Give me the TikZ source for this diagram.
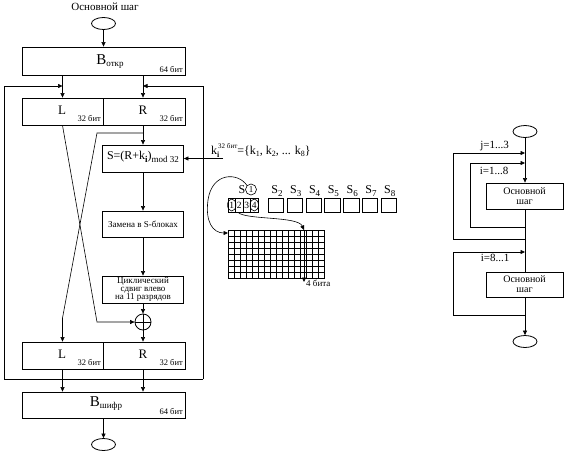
\documentclass[tikz,border=0pt]{standalone}
\usepackage{fontspec}
\setmainfont{Liberation Serif}
\usetikzlibrary{arrows.meta,shapes.geometric}
\newcommand{\fs}[1]{\fontsize{#1}{#1}\selectfont}
\begin{document}
\begin{tikzpicture}[x=1pt,y=-1pt,
  box/.style={draw, line width=0.8pt, inner sep=0pt},
  ln/.style={line width=0.6pt},
  thin/.style={line width=0.35pt},
  arr/.style={ln, -{Triangle[length=4.5pt,width=4pt]}},
  oval/.style={draw, ellipse, line width=0.8pt, inner sep=0pt, minimum width=24pt, minimum height=12pt},
  big/.style={font=\fs{13}, inner sep=0pt},
  bigB/.style={font=\fs{15}, inner sep=0pt},
  small/.style={font=\fs{8.5}, inner sep=0pt},
  mid/.style={font=\fs{9}, inner sep=0pt, align=center},
  rtxt/.style={font=\fontsize{10}{10}\selectfont, inner sep=0pt, align=center},
  lab/.style={font=\fs{11}, inner sep=0pt}]
\useasboundingbox (0,0) rectangle (564,452);

% ---------- left diagram ----------
\node[font=\fs{11}] (title) at (105,7) {Основной шаг};
\node[oval] (st) at (103.5,23.5) {};
\node[box, minimum width=163pt, minimum height=28pt] (bo) at (103.5,61) {};
\node[bigB] (botx) at (110,62) {B\raisebox{-2pt}{\fs{9}откр}};
\node[small, anchor=base east] (bo64) at (183,72) {64 бит};

\node[box, minimum width=81pt, minimum height=27pt] (L1) at (62.5,111.5) {};
\node[box, minimum width=82pt, minimum height=27pt] (R1) at (144,111.5) {};
\node[big] (L1t) at (62,110) {L};
\node[big] (R1t) at (143,110) {R};
\node[small, anchor=base east] (L1b) at (101,121) {32 бит};
\node[small, anchor=base east] (R1b) at (183,121) {32 бит};

\node[box, minimum width=81pt, minimum height=27pt] (S) at (143,158.5) {};
\node[font=\fs{12}, inner sep=0pt] (Stx) at (143,157) {S=(R+k\raisebox{-3pt}{\fs{9}\textbf{i}})\raisebox{-3pt}{\fs{9}mod 32}};
\node[box, minimum width=81pt, minimum height=26pt] (Z) at (143,224) {};
\node[mid] (Ztx) at (143,224) {Замена в S-блоках};
\node[box, minimum width=81pt, minimum height=27pt] (C) at (143,289.5) {};
\node[font=\fontsize{9}{7.5}\selectfont, inner sep=0pt, align=center] (Ctx) at (143,289.5) {Циклический\\сдвиг влево\\на 11 разрядов};
\node[draw, circle, line width=0.8pt, minimum size=16pt, inner sep=0pt] (xor) at (143,322) {};
\draw[ln] (xor.north) -- (xor.south) (xor.west) -- (xor.east);

\node[box, minimum width=81pt, minimum height=27pt] (L2) at (62.5,355.5) {};
\node[box, minimum width=82pt, minimum height=27pt] (R2) at (144,355.5) {};
\node[big] (L2t) at (62,354) {L};
\node[big] (R2t) at (143,354) {R};
\node[small, anchor=base east] (L2b) at (101,365) {32 бит};
\node[small, anchor=base east] (R2b) at (183,365) {32 бит};

\node[box, minimum width=163pt, minimum height=26pt] (Bs) at (103.5,405) {};
\node[bigB] (Bstx) at (106,404) {B\raisebox{-2pt}{\fs{9}шифр}};
\node[small, anchor=base east] (Bs64) at (183,414) {64 бит};
\node[oval] (en) at (103.5,444.5) {};

% connectors
\draw[arr] (st.south) -- (bo.north);
\draw[arr] (bo.south -| L1) -- (L1.north);
\draw[arr] (bo.south -| S) -- (R1.north -| S);
\coordinate (lt) at (4,86); \coordinate (lb) at (4,379);
\coordinate (rt) at (203,86); \coordinate (rb) at (203,379);
\draw[ln] (lb) -- (rb);
\draw[arr] (lb) -- (lt) -- (lt -| L1);
\draw[arr] (rb) -- (rt) -- (rt -| S);
\draw[arr] (R1.south -| S) -- (S.north);
\coordinate (br) at (143,133); \coordinate (bl) at (97,133); \coordinate (cl) at (62.5,318);
\draw[arr] (br) -- (bl) -- (cl) -- (L2.north);
\coordinate (xl) at (97,322);
\draw[arr] (L1.south) -- (xl) -- (xor.west);
\draw[arr] (S.south) -- (Z.north);
\draw[arr] (Z.south) -- (C.north);
\draw[arr] (C.south) -- (xor.north);
\draw[arr] (xor.south) -- (R2.north -| xor);
\draw[arr] (L2.south) -- (L2.south |- Bs.north);
\draw[arr] (R2.south -| S) -- (Bs.north -| S);
\draw[arr] (Bs.south) -- (en.north);

% key
\node[font=\fs{12}, anchor=base west, inner sep=0pt] (klab) at (211,154) {k\rlap{\raisebox{-3.5pt}{\fs{8}\textbf{i}}}\hspace{1pt}\raisebox{6pt}{\fs{7}32 бит}=\{k\raisebox{-2pt}{\fs{8}1}, k\raisebox{-2pt}{\fs{8}2}, ... k\raisebox{-2pt}{\fs{8}8}\}};
\coordinate (kin) at (223,158.5);
\draw[arr] (kin) -- (S.east);

% S-boxes
\node[draw, ln, minimum width=30pt, minimum height=14pt, inner sep=0pt] (s1) at (243,205) {};
\foreach \k in {1,2,3} \draw[ln] (228+7.5*\k,198) -- (228+7.5*\k,212);
\foreach \k in {1,...,4} \node[font=\fs{9.5}, inner sep=0pt] (d\k) at (228+7.5*\k-3.75,205) {\k};
\draw[ln] (d1) ellipse (4.2pt and 6pt);
\draw[ln] (d4) ellipse (4.2pt and 6pt);
\node[font=\fs{12}, inner sep=0pt] (s1lab) at (242,189.5) {S};
\node[draw, circle, ln, inner sep=0pt, minimum size=11pt, font=\fs{9}] (s1c) at (251,189.5) {1};
\foreach \k in {2,...,8} {
  \node[draw, ln, minimum width=15.5pt, minimum height=14pt, inner sep=0pt] (s\k) at ({276+18.8*(\k-2)},205) {};
  \node[font=\fs{12}, inner sep=0pt] (sl\k) at ({277+18.8*(\k-2)},191) {S\raisebox{-2.5pt}{\fs{9}\k}};
}

% table grid
\node[draw, ln, minimum width=96pt, minimum height=48pt, inner sep=0pt] (grid) at (276,254) {};
\foreach \i in {1,...,15} \draw[thin] (228+6*\i,230) -- (228+6*\i,278);
\foreach \j in {1,...,7} \draw[thin] (228,230+6*\j) -- (324,230+6*\j);
\coordinate (gin) at (228,233);
\draw[arr] (s1c.north west) .. controls (238,172) and (212,172) .. (208,200) .. controls (205,222) and (213,233) .. (gin);
\coordinate (gtop) at (304,230); \coordinate (gbot) at (304,282);
\draw[arr] ([xshift=-5pt]s1.south) .. controls (245,220) and (298,216) .. (gtop);
\draw[arr] (gtop) -- (gbot);
\node[font=\fs{9}, anchor=west, inner sep=0pt] (bits) at (306,283) {4 бита};

% ---------- right diagram ----------
\node[oval] (rst) at (525,131.5) {};
\node[box, minimum width=77pt, minimum height=26pt] (rb1) at (524.5,196) {};
\node[rtxt] (rb1t) at (524.5,196) {Основной\\шаг};
\node[box, minimum width=77pt, minimum height=25pt] (rb2) at (524.5,284.5) {};
\node[rtxt] (rb2t) at (524.5,284.5) {Основной\\шаг};
\node[oval] (ren) at (525,341.5) {};

\draw[arr] (rst.south) -- (rb1.north -| rst);
\draw[ln] (rb1.south -| rst) -- (rb2.north -| rst);
\draw[arr] (rb2.south -| rst) -- (ren.north);
\coordinate (jt) at (525,153); \coordinate (jb) at (525,239);
\coordinate (it) at (525,163); \coordinate (ib) at (525,227);
\coordinate (kt) at (525,252); \coordinate (kb) at (525,315);
\draw[arr] (jb) -- ++(-72,0) |- (jt);
\draw[arr] (ib) -- ++(-55,0) |- (it);
\draw[arr] (kb) -- ++(-72,0) |- (kt);
\node[lab] (jl) at (494.5,146) {j=1...3};
\node[lab] (il) at (494,171) {i=1...8};
\node[lab] (kl) at (495,258) {i=8...1};
\end{tikzpicture}
\end{document}
